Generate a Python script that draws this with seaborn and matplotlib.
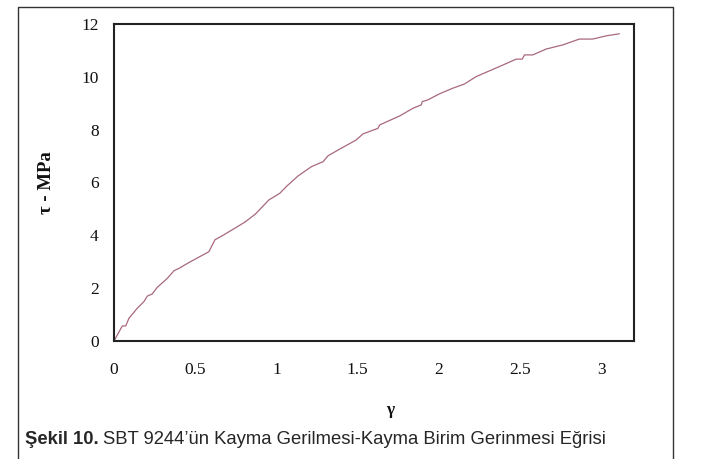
import matplotlib
matplotlib.use("Agg")
import matplotlib.pyplot as plt
import seaborn as sns
from matplotlib.lines import Line2D

# shear strain vs shear stress
gamma = [0.0, 0.051, 0.072, 0.092, 0.143, 0.184, 0.205, 0.235, 0.266, 0.328,
         0.369, 0.40, 0.461, 0.584, 0.621, 0.676, 0.768, 0.81, 0.871, 0.953,
         1.02, 1.061, 1.133, 1.215, 1.287, 1.317, 1.379, 1.49, 1.532, 1.624,
         1.635, 1.758, 1.84, 1.891, 1.897, 1.932, 2.004, 2.085, 2.157, 2.229,
         2.372, 2.475, 2.512, 2.526, 2.577, 2.659, 2.762, 2.864, 2.946, 3.028,
         3.11]
tau = [0.0, 0.57, 0.57, 0.86, 1.24, 1.49, 1.70, 1.78, 2.03, 2.37,
       2.66, 2.75, 2.97, 3.38, 3.83, 4.02, 4.36, 4.52, 4.81, 5.34,
       5.59, 5.85, 6.25, 6.60, 6.79, 7.01, 7.23, 7.61, 7.84, 8.05,
       8.18, 8.52, 8.81, 8.94, 9.06, 9.13, 9.36, 9.57, 9.73, 10.01,
       10.39, 10.67, 10.67, 10.83, 10.83, 11.05, 11.21, 11.43, 11.43, 11.55,
       11.63]

xticks = [0, 0.5, 1, 1.5, 2, 2.5, 3]
xticklabels = ["0", "0.5", "1", "1.5", "2", "2.5", "3"]
yticks = [0, 2, 4, 6, 8, 10, 12]

sns.set_style("white")
plt.rcParams["font.family"] = ["Liberation Serif", "DejaVu Serif"]

fig = plt.figure(figsize=(7.13, 4.59), dpi=100)
ax = fig.add_axes([114 / 713, 1 - 341 / 459, 520 / 713, 317 / 459])

sns.lineplot(x=gamma, y=tau, ax=ax, color="#a8687e", linewidth=0.9,
             sort=False, estimator=None)

ax.set_xlim(0, 3.2)
ax.set_ylim(0, 12)
ax.set_xticks(xticks)
ax.set_xticklabels(xticklabels)
ax.set_yticks(yticks)
ax.tick_params(axis="both", length=0, labelsize=12.5, colors="#111111")
ax.tick_params(axis="y", pad=11)
ax.tick_params(axis="x", pad=15)
for s in ax.spines.values():
    s.set_visible(True)
    s.set_color("#222222")
    s.set_linewidth(1.5)

ax.set_ylabel("τ - MPa", fontsize=13.5, fontweight="bold", color="#111111")
ax.yaxis.set_label_coords((55 - 114) / 520, 0.5)
ax.set_xlabel("γ", fontsize=12.5, fontweight="bold", color="#111111")
ax.xaxis.set_label_coords((390 - 114) / 520, (341 - 410) / 317)
ax.xaxis.label.set_va("center")

# outer figure frame
W, H = 713, 459
frame = Line2D([18 / W, 18 / W, 673 / W, 673 / W], [0, 1 - 7 / H, 1 - 7 / H, 0],
               transform=fig.transFigure, color="#333333", linewidth=1.0)
fig.add_artist(frame)

# caption
cap_font = ["Liberation Sans Narrow", "Liberation Sans", "DejaVu Sans"]
t1 = fig.text(25 / W, 1 - 439 / H, "Şekil 10.", family=cap_font, fontsize=13.3,
              fontweight="bold", va="center", ha="left")
fig.canvas.draw()
bb = t1.get_window_extent()
fig.text(bb.x1 / W + 4 / W, 1 - 439 / H,
         "SBT 9244’ün Kayma Gerilmesi-Kayma Birim Gerinmesi Eğrisi",
         family=cap_font, fontsize=13.3, va="center", ha="left")

fig.savefig("out.png", dpi=100)
